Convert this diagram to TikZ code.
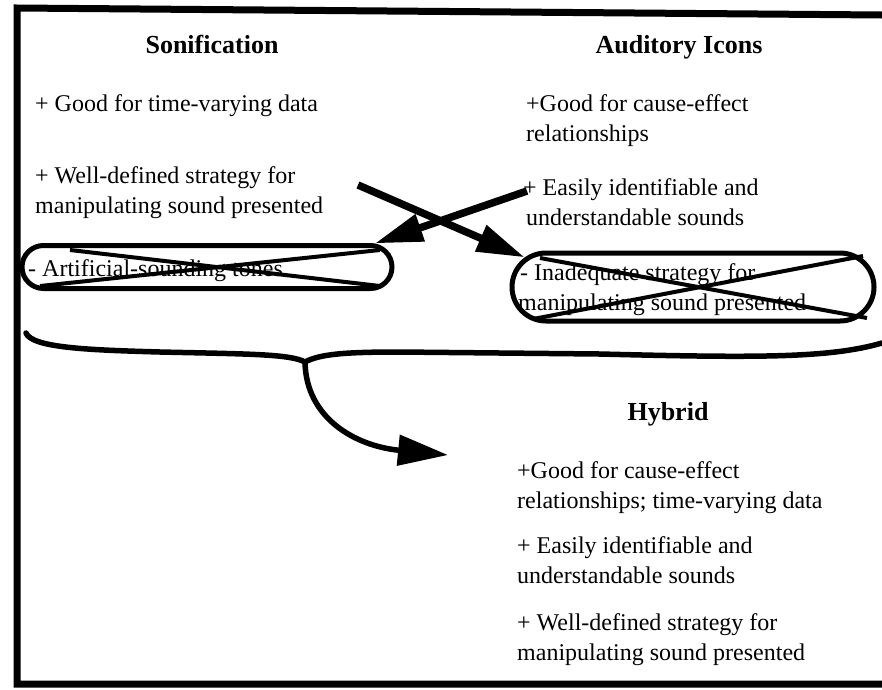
\documentclass[tikz,border=0pt]{standalone}
\usepackage{fontspec}
\setmainfont{Liberation Serif}
\usetikzlibrary{arrows.meta,shapes.misc}
\begin{document}
\begin{tikzpicture}[x=1pt,y=-1pt,
  txt/.style={anchor=base west,inner sep=0pt,font=\fontsize{24}{30}\selectfont},
  hdr/.style={anchor=base,inner sep=0pt,font=\fontsize{26}{30}\selectfont\bfseries},
  crossbox/.style={draw,rounded rectangle,line width=5pt,inner sep=0pt},
  xline/.style={line width=4pt},
  bigarrow/.style={line width=7.5pt,-{Triangle[length=48pt,width=27pt]}},
  framestyle/.style={line width=7pt,line join=miter},
  bracestyle/.style={line width=5.5pt,line cap=round}]
\useasboundingbox (0,0) rectangle (882,689);
% frame
\draw[framestyle] (882,15) -- (17,8) -- (17,684) -- (882,684);
% headers
\node[hdr] (son) at (212,53) {Sonification};
\node[hdr] (aud) at (679,53) {Auditory Icons};
\node[hdr] (hyb) at (668,420) {Hybrid};
% left column
\node[txt] (s1) at (35,111) {+ Good for time-varying data};
\node[txt] (s2a) at (35,183) {+ Well-defined strategy for};
\node[txt] (s2b) at (35,213) {manipulating sound presented};
\node[txt] (s3) at (28,276) {- Artificial-sounding tones};
% right column
\node[txt] (a1a) at (526,111) {+Good for cause-effect};
\node[txt] (a1b) at (526,141) {relationships};
\node[txt] (a2a) at (523,195) {+ Easily identifiable and};
\node[txt] (a2b) at (526,225) {understandable sounds};
\node[txt] (a3a) at (520,280) {- Inadequate strategy for};
\node[txt] (a3b) at (518,310) {manipulating sound presented};
% hybrid
\node[txt] (h1a) at (517,478) {+Good for cause-effect};
\node[txt] (h1b) at (517,508) {relationships; time-varying data};
\node[txt] (h2a) at (517,553) {+ Easily identifiable and};
\node[txt] (h2b) at (517,583) {understandable sounds};
\node[txt] (h3a) at (517,630) {+ Well-defined strategy for};
\node[txt] (h3b) at (517,660) {manipulating sound presented};
% crossed boxes
\node[crossbox,minimum width=370pt,minimum height=43pt] (lbox) at (207,267) {};
\node[crossbox,minimum width=362pt,minimum height=68pt] (rbox) at (693,287) {};
\draw[xline] (70,250) -- (380,286);
\draw[xline] (40,286) -- (380,250);
\draw[xline] (540,258) -- (867,318);
\draw[xline] (533,319) -- (863,256);
% crossing arrows
\coordinate (w1) at (358,185);
\coordinate (e1) at (527,191);
\draw[bigarrow] (w1) -- (rbox.170);
\draw[bigarrow] (e1) -- (lbox.8);
% brace
\coordinate (bl) at (26,333);
\coordinate (cusp) at (305,362);
\coordinate (br) at (882,343);
\draw[bracestyle] (bl) .. controls (32,348) and (90,350) .. (160,352)
  .. controls (250,354) and (290,354) .. (cusp)
  .. controls (320,354) and (345,352) .. (400,352)
  -- (600,354) .. controls (760,358) and (830,358) .. (br);
\coordinate (hin) at (448,455);
\draw[line width=5.5pt,-{Triangle[length=50pt,width=30pt]}] (cusp) .. controls (306,418) and (355,446) .. (hin);
\end{tikzpicture}
\end{document}
